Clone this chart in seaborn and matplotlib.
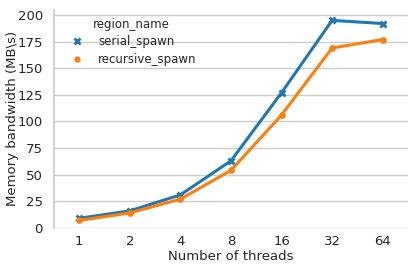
import matplotlib

matplotlib.use('Agg')
import matplotlib.pyplot as plt
from matplotlib.lines import Line2D
import seaborn as sns
import pandas as pd

# Данные
threads = [1, 2, 4, 8, 16, 32, 64]
serial_spawn = [9, 16, 31, 63, 127, 195, 192]
recursive_spawn = [7, 14, 27, 54, 106, 169, 177]
regions = ['serial_spawn', 'recursive_spawn']

sns.set_theme(style="whitegrid", font="DejaVu Sans")
colors = sns.color_palette("tab10", 2)

df = pd.DataFrame({
    'threads': threads * 2,
    'bandwidth': serial_spawn + recursive_spawn,
    'region_name': [regions[0]] * len(threads) + [regions[1]] * len(threads),
})

fig, ax = plt.subplots(figsize=(4.15, 2.7), dpi=100)
sns.pointplot(
    ax=ax,
    data=df,
    x='threads',
    y='bandwidth',
    hue='region_name',
    palette=colors,
    markers=['x', 'o'],
    markersize=4,
    linewidth=2.2,
    legend=False,
)

# Размеры маркеров
for line in ax.lines:
    if line.get_marker() == 'x':
        line.set_markersize(5)
        line.set_markeredgewidth(2)
    elif line.get_marker() == 'o':
        line.set_markersize(3.2)

ax.set_xlabel('Number of threads', fontsize=9.5, labelpad=2)
ax.set_ylabel('Memory bandwidth (MB\\s)', fontsize=9.5)
ax.yaxis.set_label_coords(-0.1, 0.5)
ax.tick_params(axis='x', labelsize=9.5, pad=-1.2)
ax.tick_params(axis='y', labelsize=9.5, pad=2)
ax.set_ylim(0, 205)
ax.set_yticks(range(0, 201, 25))
ax.grid(axis='x', visible=False)
sns.despine(ax=ax, bottom=True)

# Легенда только с маркерами
handles = [
    Line2D([], [], color=colors[0], marker='x', linestyle='none', markersize=5, markeredgewidth=2),
    Line2D([], [], color=colors[1], marker='o', linestyle='none', markersize=3.5),
]
ax.legend(handles, regions, title='region_name', loc='upper left', frameon=False,
          fontsize=8.5, title_fontsize=8.5, labelspacing=0.4,
          bbox_to_anchor=(0.002, 1.012))

fig.subplots_adjust(left=0.13, right=0.983, bottom=0.156, top=0.964)
plt.savefig('out.png', dpi=100)
plt.close()
